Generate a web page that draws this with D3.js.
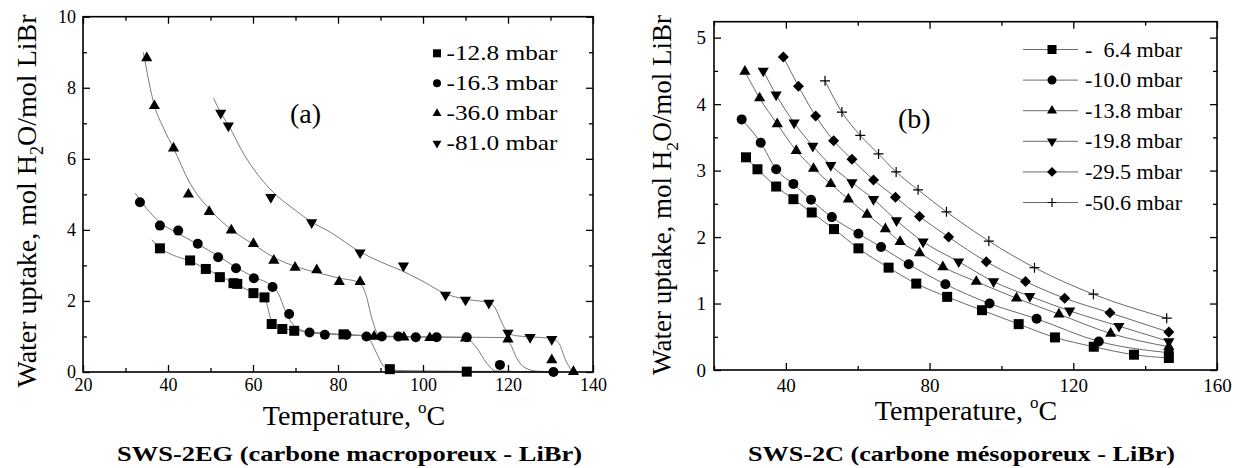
<!DOCTYPE html>
<html>
<head>
<meta charset="utf-8">
<script src="https://cdn.jsdelivr.net/npm/d3@7"></script>
<style>
  body { margin: 0; background: #fff; }
  svg { display: block; }
</style>
</head>
<body>
<div id="chart"></div>
<script>
const width = 1244;
const height = 468;
const serif = "'Liberation Serif', 'Times New Roman', Times, serif";

// ---- panel (a) : SWS-2EG ----
const aNames = ["-12.8 mbar", "-16.3 mbar", "-36.0 mbar", "-81.0 mbar"];
const aSquare = [[38.1,3.48],[45.2,3.14],[48.9,2.90],[52.2,2.67],[55.4,2.50],[56.3,2.48],[60.1,2.22],[62.7,2.10],
  [64.4,1.35],[66.9,1.21],[69.7,1.16],[81.3,1.06],[92.2,0.08],[110.3,0.01]];
const aCircle = [[33.4,4.78],[38.1,4.12],[42.4,3.98],[47.0,3.61],[51.8,3.23],[56.0,2.92],[60.2,2.64],[64.6,2.39],
  [68.5,1.63],[73.3,1.11],[76.9,1.05],[82.0,1.05],[86.7,1.0],[90.3,1.0],[94.2,1.0],[98.3,0.98],[103.2,0.98],
  [110.3,0.98],[118.1,0.2],[130.7,0.0]];
const aUp = [[35.0,8.84],[36.8,7.49],[41.3,6.30],[44.8,5.0],[49.7,4.51],[54.9,3.99],[60.1,3.61],[64.9,3.14],
  [69.9,2.94],[75.0,2.87],[80.3,2.54],[85.2,2.54],[88.5,1.0],[95.5,0.98],[101.6,0.96],[110.0,0.95],[120.0,0.92],
  [130.3,0.34],[135.4,0.01]];
const aDown = [[52.4,7.29],[54.2,6.93],[64.2,4.92],[73.8,4.21],[85.2,3.36],[95.4,2.99],[105.3,2.17],[110.0,2.03],
  [115.5,1.94],[120.0,1.10],[125.2,0.98],[130.3,0.92]];

// fitted curves of panel (a)
const aFitSquare = [[36.2,3.72],[38,3.5],[41,3.3],[45,3.13],[50,2.84],[55,2.53],[60,2.24],[62.7,2.1],[63.5,1.8],
  [64.3,1.45],[65.5,1.3],[67,1.23],[70,1.17],[75,1.11],[81,1.06],[86,1.03],[87.5,0.9],[89,0.55],[90.5,0.2],
  [92.5,0.05],[100,0.03],[110,0.02],[130,0.01]];
const aFitCircle = [[32.3,5.03],[35,4.6],[38,4.22],[42,3.92],[47,3.6],[52,3.25],[56,2.95],[60,2.68],[64.6,2.4],
  [66,2.2],[67.5,1.75],[69,1.4],[71,1.2],[74,1.1],[80,1.05],[90,1.01],[100,0.99],[110,0.97],[112.5,0.7],
  [115,0.25],[117,0.03],[125,0.01],[130,0.0]];
const aFitUp = [[34.2,9.0],[36.8,7.5],[39,6.85],[41.3,6.3],[45,5.35],[50,4.55],[55,4.0],[60,3.6],[65,3.22],
  [70,2.97],[75,2.8],[80,2.65],[85,2.52],[86.5,2.2],[88,1.5],[89.5,1.05],[92,0.99],[100,0.98],[110,0.98],
  [119,0.97],[120.5,0.8],[122,0.4],[124,0.12],[127,0.02],[130,0.01]];
const aFitDown = [[50.7,7.71],[52.4,7.3],[54.2,6.95],[58,6.1],[64,5.15],[70,4.55],[73.8,4.22],[78,3.95],
  [85.2,3.38],[90,3.1],[95,2.85],[100,2.55],[105.3,2.2],[110,2.05],[115.5,1.95],[117,1.8],[118.5,1.4],
  [120,1.1],[122,1.02],[125,0.99],[130,0.95],[132,0.8],[133.5,0.35],[135,0.03]];

const aXTicks = [20, 40, 60, 80, 100, 120, 140];
const aXMinor = [30, 50, 70, 90, 110, 130];
const aYTicks = [0, 2, 4, 6, 8, 10];
const aYMinor = [1, 3, 5, 7, 9];

// ---- panel (b) : SWS-2C ----
const bNames = ["-\u00a0\u00a06.4 mbar", "-10.0 mbar", "-13.8 mbar", "-19.8 mbar", "-29.5 mbar", "-50.6 mbar"];
const bSquare = [[28.9,3.20],[32.1,3.02],[37.3,2.76],[42.1,2.57],[47.2,2.37],[53.4,2.12],[60.2,1.83],[68.6,1.54],
  [76.3,1.30],[84.9,1.10],[94.6,0.90],[104.8,0.69],[114.9,0.49],[125.7,0.35],[136.9,0.23],[146.6,0.18]];
const bCircle = [[27.7,3.77],[33.0,3.42],[37.3,3.02],[42.1,2.80],[47.0,2.56],[52.8,2.30],[60.2,2.05],[66.5,1.85],
  [74.2,1.59],[84.4,1.29],[96.7,1.00],[109.8,0.77],[127.1,0.43],[146.6,0.26]];
const bUp = [[28.6,4.49],[32.7,4.09],[37.6,3.70],[42.9,3.30],[47.7,3.03],[52.5,2.80],[57.4,2.57],[62.6,2.34],
  [67.7,2.12],[71.8,1.93],[77.2,1.76],[83.7,1.55],[93.0,1.33],[104.2,1.08],[116.0,0.84],[130.4,0.55],[146.6,0.35]];
const bDown = [[33.7,4.50],[37.3,4.14],[42.3,3.72],[47.5,3.37],[52.5,3.08],[58.4,2.82],[64.4,2.57],[70.8,2.25],
  [78.2,1.93],[88.1,1.63],[97.8,1.33],[107.9,1.11],[119.0,0.89],[132.7,0.66],[146.6,0.43]];
const bDiamond = [[39.3,4.71],[43.5,4.27],[48.3,3.82],[53.3,3.45],[58.4,3.17],[64.4,2.86],[70.5,2.60],[77.2,2.31],
  [85.3,2.00],[95.8,1.63],[106.7,1.33],[117.6,1.08],[130.2,0.86],[146.6,0.57]];
const bPlus = [[50.9,4.35],[55.6,3.88],[60.7,3.53],[65.8,3.25],[70.7,2.98],[76.8,2.71],[84.7,2.38],[96.5,1.94],
  [109.2,1.54],[125.6,1.14],[146.0,0.78]];

const bXTicks = [40, 80, 120, 160];
const bXMinor = [20, 60, 100, 140];
const bYTicks = [0, 1, 2, 3, 4, 5];
const bYMinor = [0.5, 1.5, 2.5, 3.5, 4.5];

const svg = d3.select("#chart").append("svg")
    .attr("width", width).attr("height", height)
    .style("font-family", serif);

// marker shapes
function marker(g, kind, cx, cy, s) {
    let p;
    if (kind === "square") {
        p = g.append("path").attr("d", d3.symbol(d3.symbolSquare, s * s)());
        p.attr("transform", `translate(${cx},${cy})`);
    } else if (kind === "circle") {
        p = g.append("path").attr("d", d3.symbol(d3.symbolCircle, Math.PI * s * s / 4)());
        p.attr("transform", `translate(${cx},${cy})`);
    } else if (kind === "up" || kind === "down") {
        const side = s * 1.12;
        p = g.append("path").attr("d", d3.symbol(d3.symbolTriangle, Math.sqrt(3) / 4 * side * side)());
        p.attr("transform", `translate(${cx},${cy}) rotate(${kind === "down" ? 180 : 0})`);
    } else if (kind === "diamond") {
        const side = s * 0.78;
        p = g.append("path").attr("d", d3.symbol(d3.symbolSquare, side * side)());
        p.attr("transform", `translate(${cx},${cy}) rotate(45)`);
    } else {
        const h = s / 2;
        g.append("path").attr("d", `M${cx - h},${cy}H${cx + h}M${cx},${cy - h}V${cy + h}`)
            .attr("stroke", "#000").attr("stroke-width", 1.2);
        return;
    }
    p.attr("fill", "#000");
}

function addText(sel) {
    return sel.append("text").style("font-family", serif).attr("fill", "#000");
}

function drawPanel(p) {
    const x = d3.scaleLinear().domain(p.xDomain).range([p.left, p.right]);
    const y = d3.scaleLinear().domain(p.yDomain).range([p.bottom, p.top]);

    const line = d3.line().x(d => x(d[0])).y(d => y(d[1])).curve(d3.curveMonotoneX);
    p.fits.forEach(f => {
        svg.append("path").datum(f).attr("d", line)
            .attr("fill", "none").attr("stroke", p.lineColor).attr("stroke-width", 1);
    });

    // ticks, all pointing inwards
    const axes = [
        [d3.axisBottom(x).tickValues(p.xTicks).tickSize(-7).tickPadding(p.xPad).tickFormat(d3.format("d")), `translate(0,${p.bottom})`],
        [d3.axisBottom(x).tickValues(p.xMinor).tickSize(-4).tickFormat(""), `translate(0,${p.bottom})`],
        [d3.axisTop(x).tickValues(p.xTicks).tickSize(-7).tickFormat(""), `translate(0,${p.top})`],
        [d3.axisTop(x).tickValues(p.xMinor).tickSize(-4).tickFormat(""), `translate(0,${p.top})`],
        [d3.axisLeft(y).tickValues(p.yTicks).tickSize(-7).tickPadding(p.yPad).tickFormat(d3.format("d")), `translate(${p.left},0)`],
        [d3.axisLeft(y).tickValues(p.yMinor).tickSize(-4).tickFormat(""), `translate(${p.left},0)`],
        [d3.axisRight(y).tickValues(p.yTicks).tickSize(-7).tickFormat(""), `translate(${p.right},0)`],
        [d3.axisRight(y).tickValues(p.yMinor).tickSize(-4).tickFormat(""), `translate(${p.right},0)`]
    ];
    axes.forEach(([ax, tr]) => {
        const g = svg.append("g").attr("transform", tr).call(ax);
        g.select(".domain").remove();
        g.attr("font-family", serif).attr("font-size", p.tickFont);
        g.selectAll("text").style("font-family", serif).attr("fill", "#000");
        g.selectAll("line").attr("stroke", "#000").attr("stroke-width", 1.3);
    });

    svg.append("rect")
        .attr("x", p.left).attr("y", p.top)
        .attr("width", p.right - p.left).attr("height", p.bottom - p.top)
        .attr("fill", "none").attr("stroke", "#000").attr("stroke-width", 1.6);

    const mg = svg.append("g");
    p.series.forEach(s => {
        s.data.forEach(d => marker(mg, s.kind, x(d[0]), y(d[1]), p.markSize));
    });

    // legend
    const lg = svg.append("g");
    p.series.forEach((s, i) => {
        const yy = p.legY + i * p.legStep;
        if (p.legLine) {
            lg.append("line").attr("x1", p.legLine[0]).attr("x2", p.legLine[1])
                .attr("y1", yy).attr("y2", yy).attr("stroke", p.lineColor).attr("stroke-width", 1);
        }
        marker(lg, s.kind, p.legMarkX, yy, p.legMarkSize);
        addText(lg).attr("x", p.legTextX).attr("y", yy + 7)
            .attr("font-size", 22).attr("textLength", p.legTextLen).attr("lengthAdjust", "spacingAndGlyphs")
            .text(s.name);
    });

    addText(svg).attr("x", p.tagX).attr("y", p.tagY).attr("font-size", 28).text(p.tag);

    // axis titles
    const xt = addText(svg).attr("x", p.xTitleX).attr("y", p.xTitleY)
        .attr("text-anchor", "middle").attr("font-size", 28);
    xt.append("tspan").text("Temperature, ");
    xt.append("tspan").attr("dy", -12).attr("font-size", 17).text("o");
    xt.append("tspan").attr("dy", 12).text("C");

    const yt = addText(svg)
        .attr("transform", `translate(${p.yTitleX},${p.yTitleY}) rotate(-90)`)
        .attr("text-anchor", "middle").attr("font-size", p.yTitleFont);
    yt.append("tspan").text("Water uptake, mol H");
    yt.append("tspan").attr("dy", 7).attr("font-size", p.yTitleFont * 0.65).text("2");
    yt.append("tspan").attr("dy", -7).text("O/mol LiBr");

    addText(svg).attr("x", p.capX).attr("y", p.capY)
        .attr("text-anchor", "middle").attr("font-size", 21).attr("font-weight", "bold")
        .attr("textLength", p.capLen).attr("lengthAdjust", "spacingAndGlyphs")
        .text(p.caption);
}

drawPanel({
    xDomain: [20, 140], yDomain: [0, 10],
    left: 83, right: 593, top: 16.7, bottom: 372,
    xTicks: aXTicks, xMinor: aXMinor, yTicks: aYTicks, yMinor: aYMinor,
    xPad: 6, yPad: 7, tickFont: 18,
    lineColor: "#7a7a7a",
    fits: [aFitSquare, aFitCircle, aFitUp, aFitDown],
    series: [
        { name: aNames[0], kind: "square", data: aSquare },
        { name: aNames[1], kind: "circle", data: aCircle },
        { name: aNames[2], kind: "up", data: aUp },
        { name: aNames[3], kind: "down", data: aDown }
    ],
    markSize: 10,
    legY: 53.3, legStep: 30, legLine: null, legMarkX: 437, legMarkSize: 8,
    legTextX: 446.5, legTextLen: 111,
    tag: "(a)", tagX: 290, tagY: 123,
    xTitleX: 354, xTitleY: 425,
    yTitleX: 36, yTitleY: 201, yTitleFont: 28,
    caption: "SWS-2EG (carbone macroporeux - LiBr)", capX: 349.5, capY: 461, capLen: 465
});

drawPanel({
    xDomain: [20, 160], yDomain: [0, 5.24],
    left: 714, right: 1217, top: 21.7, bottom: 370,
    xTicks: bXTicks, xMinor: bXMinor, yTicks: bYTicks, yMinor: bYMinor,
    xPad: 9, yPad: 8, tickFont: 19,
    lineColor: "#6a6a6a",
    fits: [bSquare, bCircle, bUp, bDown, bDiamond, bPlus],
    series: [
        { name: bNames[0], kind: "square", data: bSquare },
        { name: bNames[1], kind: "circle", data: bCircle },
        { name: bNames[2], kind: "up", data: bUp },
        { name: bNames[3], kind: "down", data: bDown },
        { name: bNames[4], kind: "diamond", data: bDiamond },
        { name: bNames[5], kind: "plus", data: bPlus }
    ],
    markSize: 10,
    legY: 49.5, legStep: 30.6, legLine: [1023, 1078], legMarkX: 1052, legMarkSize: 9,
    legTextX: 1085, legTextLen: 97,
    tag: "(b)", tagX: 898, tagY: 128,
    xTitleX: 966, xTitleY: 420,
    yTitleX: 671, yTitleY: 195, yTitleFont: 27,
    caption: "SWS-2C (carbone mésoporeux - LiBr)", capX: 961.5, capY: 460.5, capLen: 427
});
</script>
</body>
</html>
